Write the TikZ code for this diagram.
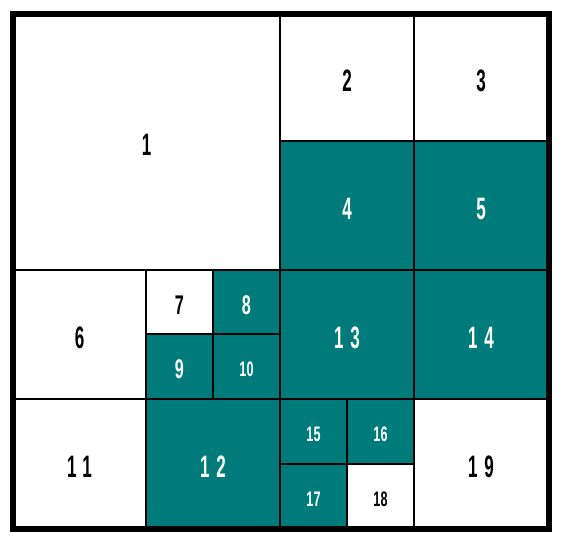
\documentclass[tikz,border=0pt]{standalone}
\usepackage{fontspec}
\usepackage{tikz}
\newfontfamily\cellfontwide[FakeStretch=0.55,LetterSpace=22]{Liberation Sans}
\newfontfamily\cellfont[FakeStretch=0.6]{Liberation Sans}
\definecolor{cTeal}{HTML}{007B7B}
\tikzset{
  cell/.style={draw=black, line width=1.6pt},
  blank/.style={cell, fill=white},
  teal/.style={cell, fill=cTeal},
  numbig/.style={font=\cellfontwide\bfseries\fontsize{31}{31}\selectfont},
  nummid/.style={font=\cellfont\bfseries\fontsize{27}{27}\selectfont},
  numsmall/.style={font=\cellfont\bfseries\fontsize{21}{21}\selectfont},
  frame/.style={draw=black, line width=6pt},
}
\begin{document}
\begin{tikzpicture}[x=1pt, y=-1pt]
  \useasboundingbox (0,0) rectangle (562,542);
  % cells: x0/y0/x1/y1/fill/size/text colour/label
  \foreach \xa/\ya/\xb/\yb/\kind/\size/\tc/\lbl in {
      13/14/280/270/blank/numbig/black/1,
      280/14/414/141/blank/numbig/black/2,
      414/14/548/141/blank/numbig/black/3,
      280/141/414/270/teal/numbig/white/4,
      414/141/548/270/teal/numbig/white/5,
      13/270/146/399/blank/numbig/black/6,
      146/270/213/334/blank/nummid/black/7,
      213/270/280/334/teal/nummid/white/8,
      146/334/213/399/teal/nummid/white/9,
      213/334/280/399/teal/numsmall/white/10,
      13/399/146/528/blank/numbig/black/11,
      146/399/280/528/teal/numbig/white/12,
      280/270/414/399/teal/numbig/white/13,
      414/270/548/399/teal/numbig/white/14,
      280/399/347/464/teal/numsmall/white/15,
      347/399/414/464/teal/numsmall/white/16,
      280/464/347/528/teal/numsmall/white/17,
      347/464/414/528/blank/numsmall/black/18,
      414/399/548/528/blank/numbig/black/19}
  {
    \draw[\kind] (\xa,\ya) rectangle (\xb,\yb)
      node[midway, yshift=-3pt, \size, text=\tc] (c\lbl) {\lbl};
  }
  \draw[frame] (13,14) rectangle (549,529);
\end{tikzpicture}
\end{document}
